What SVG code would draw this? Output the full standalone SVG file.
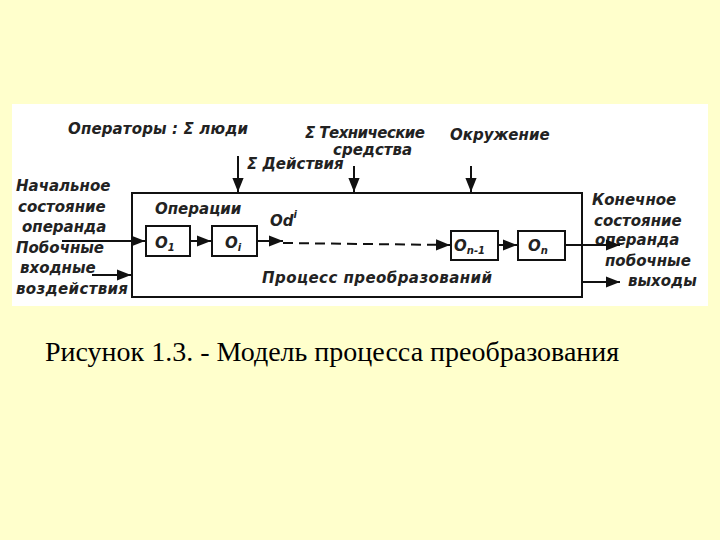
<svg xmlns="http://www.w3.org/2000/svg" width="720" height="540" viewBox="0 0 720 540">
<defs>
<marker id="a" viewBox="0 0 10 10" refX="10" refY="5" markerWidth="7" markerHeight="7" orient="auto"><path d="M0,1 L10,5 L0,9 z" fill="#111"/></marker>
<style>
.t{font-family:"DejaVu Sans",sans-serif;font-style:italic;font-weight:bold;font-size:15px;fill:#222}
.b{fill:none;stroke:#111;stroke-width:2}
.l{stroke:#111;stroke-width:2;fill:none}
</style>
</defs>
<rect width="720" height="540" fill="#FFFFCC"/>
<rect x="12" y="104" width="696" height="202" fill="#fff"/>
<g id="process"><rect class="b" x="132" y="193" width="450" height="104"/>
<text class="t" x="155" y="214">Операции</text>
<text class="t" x="262" y="283" textLength="230">Процесс   преобразований</text></g>
<g id="o1"><rect class="b" x="146" y="226" width="44" height="30"/><text class="t" x="155" y="248" font-size="17">O<tspan font-size="10" dy="3">1</tspan></text></g>
<g id="oi"><rect class="b" x="212" y="226" width="45" height="30"/><text class="t" x="225" y="248" font-size="17">O<tspan font-size="10" dy="3">i</tspan></text></g>
<g id="on1"><rect class="b" x="451" y="231" width="47" height="29"/><text class="t" x="454" y="251" font-size="17">O<tspan font-size="10" dy="3">n-1</tspan></text></g>
<g id="on"><rect class="b" x="518" y="231" width="47" height="29"/><text class="t" x="528" y="251" font-size="17">O<tspan font-size="10" dy="3">n</tspan></text></g>
<g id="labels">
<text class="t" x="68" y="134" textLength="180">Операторы : Σ люди</text>
<text class="t" x="305" y="138" textLength="120">Σ Технические</text>
<text class="t" x="333" y="155">средства</text>
<text class="t" x="247" y="169">Σ Действия</text>
<text class="t" x="450" y="140">Окружение</text>
<text class="t" x="16" y="191">Начальное</text>
<text class="t" x="18" y="212">состояние</text>
<text class="t" x="22" y="232">операнда</text>
<text class="t" x="16" y="253">Побочные</text>
<text class="t" x="20" y="273">входные</text>
<text class="t" x="16" y="294" textLength="112">воздействия</text>
<text class="t" x="270" y="226">Od<tspan font-size="10" dy="-8">i</tspan></text>
<text class="t" x="592" y="205">Конечное</text>
<text class="t" x="594" y="226">состояние</text>
<text class="t" x="595" y="245">операнда</text>
<text class="t" x="605" y="266">побочные</text>
<text class="t" x="628" y="286">выходы</text>
</g>
<g id="connectors">
<line class="l" x1="238" y1="156" x2="238" y2="192" marker-end="url(#a)"/>
<line class="l" x1="354" y1="166" x2="354" y2="192" marker-end="url(#a)"/>
<line class="l" x1="471" y1="166" x2="471" y2="192" marker-end="url(#a)"/>
<line class="l" x1="62" y1="241" x2="145" y2="241" marker-end="url(#a)"/>
<line class="l" x1="92" y1="275" x2="131" y2="275" marker-end="url(#a)"/>
<line class="l" x1="190" y1="241" x2="211" y2="241" marker-end="url(#a)"/>
<line class="l" x1="257" y1="241" x2="283" y2="241" marker-end="url(#a)"/>
<line class="l" x1="283" y1="243" x2="450" y2="245" stroke-dasharray="10,6" marker-end="url(#a)"/>
<line class="l" x1="498" y1="245" x2="517" y2="245" marker-end="url(#a)"/>
<line class="l" x1="565" y1="245" x2="620" y2="245" marker-end="url(#a)"/>
<line class="l" x1="582" y1="282" x2="620" y2="282" marker-end="url(#a)"/>
</g>
<text x="45" y="361" font-family="Liberation Serif,serif" font-size="28" fill="#000">Рисунок 1.3. - Модель процесса преобразования</text>
</svg>
